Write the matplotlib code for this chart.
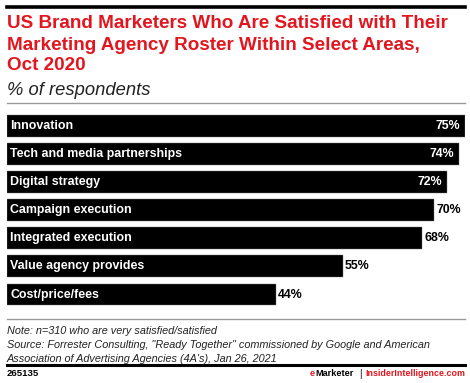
import matplotlib
matplotlib.use("Agg")
import matplotlib.pyplot as plt
from matplotlib.lines import Line2D

# Data
categories = ["Innovation", "Tech and media partnerships", "Digital strategy",
              "Campaign execution", "Integrated execution", "Value agency provides",
              "Cost/price/fees"]
values = [75, 74, 72, 70, 68, 55, 44]
inside_labels = 3  # first three bars carry their value inside

title_lines = ["US Brand Marketers Who Are Satisfied with Their",
               "Marketing Agency Roster Within Select Areas,",
               "Oct 2020"]
note_lines = ["Note: n=310 who are very satisfied/satisfied",
              "Source: Forrester Consulting, \"Ready Together\" commissioned by Google and American",
              "Association of Advertising Agencies (4A's), Jan 26, 2021"]

RED = "#e2161f"
W, H = 470, 383
FONT = "Liberation Sans"

fig = plt.figure(figsize=(W / 100, H / 100), dpi=100)


def fy(py):
    # pixel row -> figure fraction
    return 1 - py / H


def fx(px):
    return px / W


def hline(py, color, lw):
    fig.add_artist(Line2D([fx(7), fx(465)], [fy(py), fy(py)], color=color, lw=lw,
                          transform=fig.transFigure))


# Header
hline(6.5, "black", 2.6)
for k, line in enumerate(title_lines):
    fig.text(fx(7), fy(28.5 + 21 * k), line, color=RED, fontsize=13.6, fontweight="bold",
             family=FONT, va="baseline", ha="left")
fig.text(fx(7), fy(95), "% of respondents", fontsize=13.2, style="italic",
         family=FONT, va="baseline", ha="left", color="#222222")
hline(102.5, "#999999", 1.0)

# Bars
ax = fig.add_axes([fx(7), fy(311.4), fx(465) - fx(7), fy(109.1) - fy(311.4)])
ypos = list(range(len(categories)))
ax.barh(ypos, values, height=0.78, color="black", edgecolor="#777777", linewidth=0.3)
ax.set_xlim(0, 75)
ax.set_ylim(len(categories) - 0.4, -0.6)
ax.axis("off")

for i, (cat, v) in enumerate(zip(categories, values)):
    ax.text(0.5, i, cat, color="white", fontsize=8.95, fontweight="bold",
            family=FONT, va="center", ha="left")
    if i < inside_labels:
        ax.text(v - 0.8, i, f"{v}%", color="white", fontsize=8.95, fontweight="bold",
                family=FONT, va="center", ha="right")
    else:
        ax.text(v + 0.35, i, f"{v}%", color="black", fontsize=8.95, fontweight="bold",
                family=FONT, va="center", ha="left")

# Footer
hline(319, "#999999", 1.0)
for k, line in enumerate(note_lines):
    fig.text(fx(7), fy(334.5 + 14 * k), line, fontsize=7.8, style="italic", family=FONT,
             va="baseline", ha="left", color="#222222")
hline(364.5, "black", 2.2)
fig.text(fx(7), fy(376.5), "265135", fontsize=6.8, fontweight="bold", family=FONT,
         va="baseline", ha="left")
fig.text(fx(465), fy(376.5), "InsiderIntelligence.com", fontsize=6.4, fontweight="bold",
         family=FONT, va="baseline", ha="right", color=RED)
fig.text(fx(360.7), fy(377), "|", fontsize=7, family=FONT,
         va="baseline", ha="center", color="black")
mk = fig.text(fx(353.5), fy(376.5), "Marketer", fontsize=6.6, fontweight="bold",
              family=FONT, va="baseline", ha="right", color="black")
fig.canvas.draw()
bb = mk.get_window_extent()
fig.text(bb.x0 / W, fy(376.5), "e", fontsize=6.6, fontweight="bold",
         family=FONT, va="baseline", ha="right", color=RED)

fig.savefig("out.png", dpi=100)
